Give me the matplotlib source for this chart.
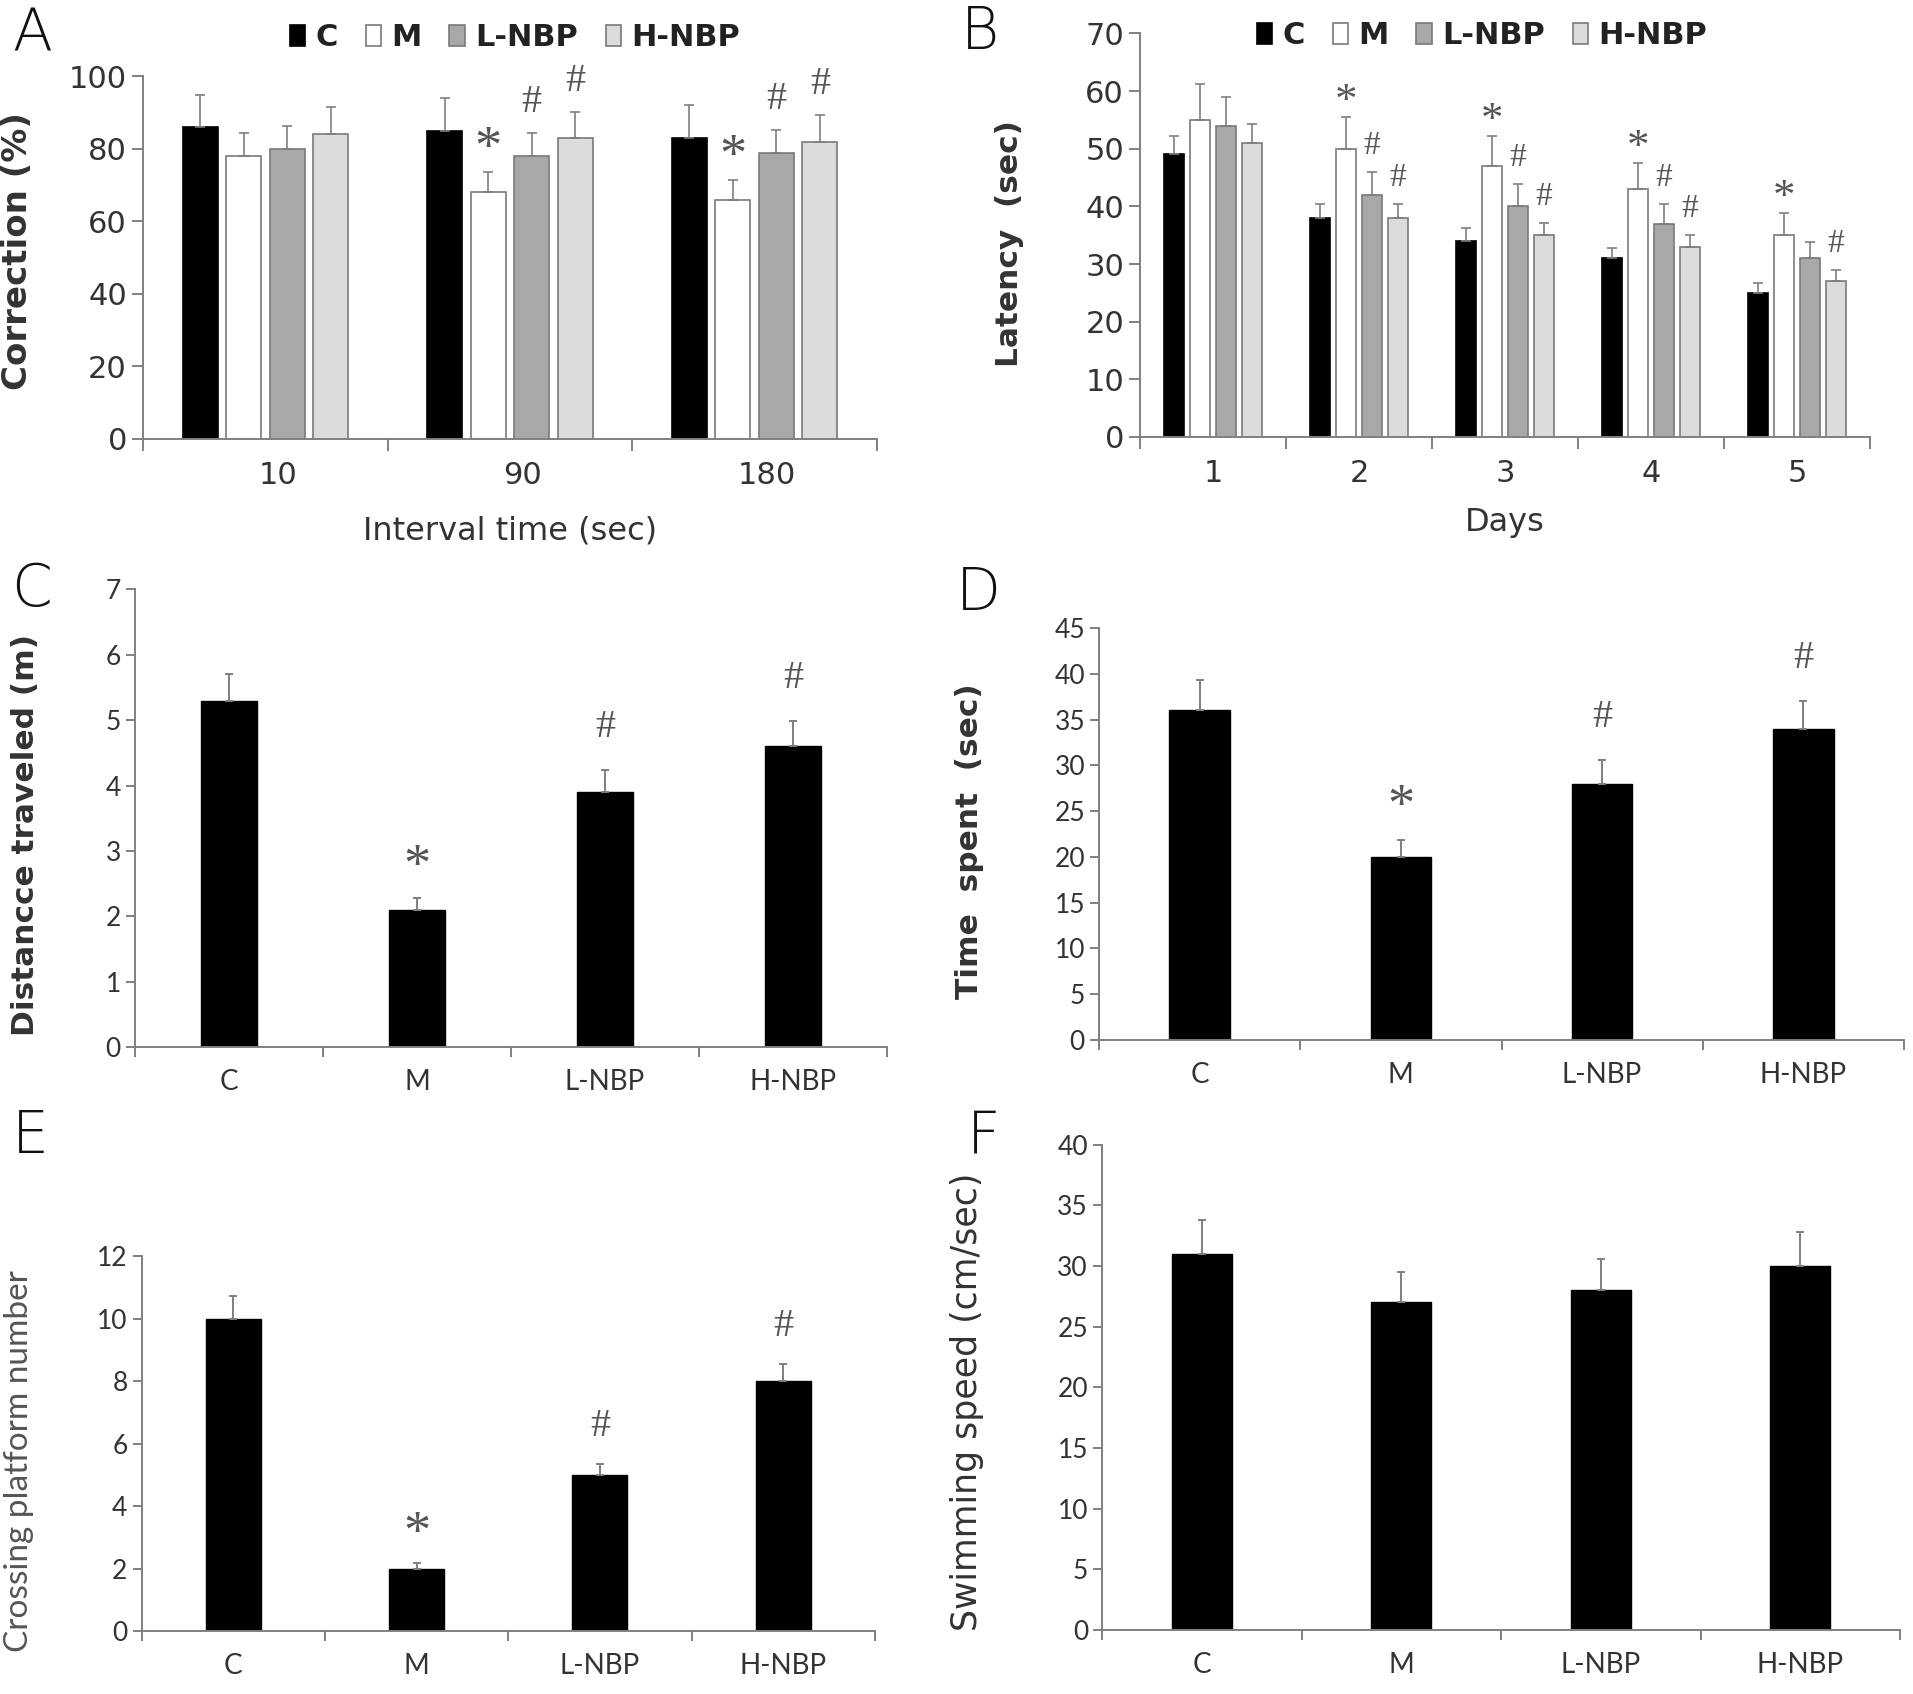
import matplotlib
matplotlib.use('Agg')
import matplotlib.pyplot as plt
from matplotlib.patches import Patch
import numpy as np

W, H = 1913, 1694
fig = plt.figure(figsize=(W / 100, H / 100), dpi=100)

# ---------------- data ----------------
groups = ['C', 'M', 'L-NBP', 'H-NBP']
group_colors = ['#000000', '#ffffff', '#a8a8a8', '#dcdcdc']

# Panel A: interval time
a_cats = ['10', '90', '180']
a_c = [86, 85, 83]
a_c_err = [9, 9, 9]
a_m = [78, 68, 66]
a_m_err = [6.3, 5.6, 5.5]
a_l = [80, 78, 79]
a_l_err = [6.4, 6.3, 6.3]
a_h = [84, 83, 82]
a_h_err = [7.5, 7.3, 7.5]
a_sig_c = ['', '', '']
a_sig_m = ['', '*', '*']
a_sig_l = ['', '#', '#']
a_sig_h = ['', '#', '#']

# Panel B: latency by day
b_cats = ['1', '2', '3', '4', '5']
b_c = [49, 38, 34, 31, 25]
b_c_err = [3.2, 2.4, 2.3, 1.8, 1.7]
b_m = [55, 50, 47, 43, 35]
b_m_err = [6.2, 5.5, 5.2, 4.5, 3.9]
b_l = [54, 42, 40, 37, 31]
b_l_err = [5.0, 3.9, 3.8, 3.4, 2.8]
b_h = [51, 38, 35, 33, 27]
b_h_err = [3.2, 2.4, 2.2, 2.1, 1.9]
b_sig_c = ['', '', '', '', '']
b_sig_m = ['', '*', '*', '*', '*']
b_sig_l = ['', '#', '#', '#', '']
b_sig_h = ['', '#', '#', '#', '#']

# Panels C-F: single bars per group
c_vals = [5.3, 2.1, 3.9, 4.6]
c_err = [0.4, 0.18, 0.33, 0.38]
c_sig = ['', '*', '#', '#']

d_vals = [36, 20, 28, 34]
d_err = [3.3, 1.8, 2.6, 3.0]
d_sig = ['', '*', '#', '#']

e_vals = [10, 2, 5, 8]
e_err = [0.72, 0.17, 0.36, 0.56]
e_sig = ['', '*', '#', '#']

f_vals = [31, 27, 28, 30]
f_err = [2.8, 2.5, 2.6, 2.8]
f_sig = ['', '', '', '']

# ---------------- style ----------------
SPINE = '#808080'
ERR = '#7f7f7f'
EDGE = '#7a7a7a'
TXT = '#333333'
ANN = '#555555'
SANS = ['DejaVu Sans']
CAL = ['Lato', 'DejaVu Sans']
SERIF = ['Liberation Serif', 'DejaVu Serif']
STAR_SCALE = 1.35


def px2pt(p):
    return p * 0.72


def add_axes(l, r, t, b):
    return fig.add_axes([l / W, 1 - b / H, (r - l) / W, (b - t) / H])


def style_axes(ax, cats, ylim, yticks, tickfont, tsize_y, tsize_x, ylen, xlen, xpad, ypad,
               lw=1.4, label_shift=0.0):
    n = len(cats)
    ax.set_xlim(-0.5, n - 0.5)
    ax.set_ylim(*ylim)
    for s in ['top', 'right']:
        ax.spines[s].set_visible(False)
    for s in ['left', 'bottom']:
        ax.spines[s].set_color(SPINE)
        ax.spines[s].set_linewidth(lw)
    ax.set_yticks(yticks)
    ax.set_xticks(np.arange(n + 1) - 0.5)
    ax.set_xticklabels([''] * (n + 1))
    ax.set_xticks(np.arange(n) + label_shift, minor=True)
    ax.set_xticklabels(cats, minor=True, family=tickfont, fontsize=tsize_x, color=TXT)
    ax.tick_params(axis='x', which='major', length=px2pt(xlen), width=lw, color=SPINE, direction='out')
    ax.tick_params(axis='x', which='minor', length=0, pad=px2pt(xpad))
    ax.tick_params(axis='y', length=px2pt(ylen), width=lw, color=SPINE, direction='out', pad=px2pt(ypad))
    for lab in ax.get_yticklabels():
        lab.set_family(tickfont)
        lab.set_fontsize(tsize_y)
        lab.set_color(TXT)


def annotate(ax, xs, tops, sigs, off_hash, off_star, size):
    for x, t, s in zip(xs, tops, sigs):
        if not s:
            continue
        off = off_hash if s == '#' else off_star
        fs = size if s == '#' else size * STAR_SCALE
        ax.annotate(s, xy=(x, t), xytext=(0, px2pt(off)), textcoords='offset points',
                    ha='center', va='baseline', fontsize=fs, color=ANN, family=SERIF)


def grouped(ax, series, errs, sigs, step, width, off_hash, off_star, ann_size):
    n = len(series[0])
    x = np.arange(n)
    for i, (vals, err, sig, col) in enumerate(zip(series, errs, sigs, group_colors)):
        xi = x + (i - 1.5) * step
        ax.bar(xi, vals, width=width, color=col, edgecolor=('#000000' if i == 0 else EDGE),
               linewidth=1.2, zorder=2)
        ax.errorbar(xi, vals, yerr=[np.zeros(n), err], fmt='none', ecolor=ERR,
                    elinewidth=1.2, capsize=px2pt(5), capthick=1.2, zorder=3)
        annotate(ax, xi, np.array(vals) + np.array(err), sig, off_hash, off_star, ann_size)


def single(ax, vals, err, sig, off_hash, off_star, ann_size):
    x = np.arange(len(vals))
    ax.bar(x, vals, width=0.3, color='#000000', edgecolor='#000000', linewidth=1.0, zorder=2)
    ax.errorbar(x, vals, yerr=[np.zeros(len(vals)), err], fmt='none', ecolor=ERR,
                elinewidth=1.4, capsize=px2pt(4), capthick=1.4, zorder=3)
    annotate(ax, x, np.array(vals) + np.array(err), sig, off_hash, off_star, ann_size)


def set_ylabel(ax, text, x_px, box, size, y_px=None, weight='bold', family=SANS, color=TXT):
    l, r, t, b = box
    ax.set_ylabel(text, fontsize=size, fontweight=weight, family=family, color=color)
    yc = 0.5 if y_px is None else (b - y_px) / (b - t)
    ax.yaxis.set_label_coords((x_px - l) / (r - l), yc)


def panel_letter(text, x, y):
    fig.text(x / W, 1 - y / H, text, fontsize=42, fontweight='light', family=SANS,
             ha='center', va='center', color='#111111')


def legend(cx, cy):
    handles = [Patch(facecolor=c, edgecolor=('#000000' if i == 0 else EDGE), linewidth=1.2)
               for i, c in enumerate(group_colors)]
    fig.legend(handles, groups, ncol=4, loc='center', bbox_to_anchor=(cx / W, 1 - cy / H),
               frameon=False, handlelength=0.5, handleheight=0.7, handletextpad=0.35,
               columnspacing=0.9, prop={'family': SANS, 'weight': 'bold', 'size': 22},
               labelcolor='#222222', borderpad=0, borderaxespad=0)

# ---------------- Panel A ----------------
A = (143, 877, 76.5, 438.6)
axA = add_axes(*A)
grouped(axA, [a_c, a_m, a_l, a_h], [a_c_err, a_m_err, a_l_err, a_h_err],
        [a_sig_c, a_sig_m, a_sig_l, a_sig_h], 0.178, 0.143, 21, 9, 29)
style_axes(axA, a_cats, (0, 100), np.arange(0, 101, 20), SANS, 22, 22, 11, 12, 22, 5,
           label_shift=0.05)
set_ylabel(axA, 'Correction (%)', 34, A, 24.5, y_px=251)
axA.set_xlabel('Interval time (sec)', fontsize=23, family=SANS, color=TXT, labelpad=px2pt(26))
legend(515, 38)
panel_letter('A', 32, 35)

# ---------------- Panel B ----------------
B = (1140, 1870, 33.4, 437)
axB = add_axes(*B)
grouped(axB, [b_c, b_m, b_l, b_h], [b_c_err, b_m_err, b_l_err, b_h_err],
        [b_sig_c, b_sig_m, b_sig_l, b_sig_h], 0.178, 0.138, 18, 4, 24)
style_axes(axB, b_cats, (0, 70), np.arange(0, 71, 10), SANS, 22, 22, 11, 12, 22, 5)
set_ylabel(axB, 'Latency  (sec)', 1024, B, 22.5, y_px=244)
axB.set_xlabel('Days', fontsize=23, family=SANS, color=TXT, labelpad=px2pt(19))
legend(1482, 36)
panel_letter('B', 980, 33)

# ---------------- Panel C ----------------
C = (135, 887, 589.4, 1047)
axC = add_axes(*C)
single(axC, c_vals, c_err, c_sig, 33, 17, 29)
style_axes(axC, groups, (0, 7), np.arange(0, 8, 1), CAL, 19, 20, 9, 10, 22, 5)
set_ylabel(axC, 'Distancce traveled (m)', 40, C, 22.5, y_px=835)
panel_letter('C', 32, 590)

# ---------------- Panel D ----------------
D = (1099, 1904, 628, 1040)
axD = add_axes(*D)
single(axD, d_vals, d_err, d_sig, 33, 19, 29)
style_axes(axD, groups, (0, 45), np.arange(0, 46, 5), CAL, 19, 20, 9, 10, 22, 5)
set_ylabel(axD, 'Time  spent  (sec)', 984, D, 22.5, y_px=841)
panel_letter('D', 978, 594)

# ---------------- Panel E ----------------
E = (141.5, 875, 1256, 1631)
axE = add_axes(*E)
single(axE, e_vals, e_err, e_sig, 28, 15, 29)
style_axes(axE, groups, (0, 12), np.arange(0, 13, 2), CAL, 19, 20, 9, 10, 22, 5)
set_ylabel(axE, 'Crossing platform number', 34, E, 24, y_px=1461, weight='normal',
           family=CAL, color='#555555')
panel_letter('E', 30, 1137)

# ---------------- Panel F ----------------
F = (1102, 1900, 1144.6, 1630)
axF = add_axes(*F)
single(axF, f_vals, f_err, f_sig, 28, 15, 29)
style_axes(axF, groups, (0, 40), np.arange(0, 41, 5), CAL, 19, 20, 9, 10, 22, 5)
set_ylabel(axF, 'Swimming speed (cm/sec)', 984, F, 25, y_px=1402, weight='normal')
panel_letter('F', 984, 1137)

fig.savefig('out.png', dpi=100, facecolor='white')
